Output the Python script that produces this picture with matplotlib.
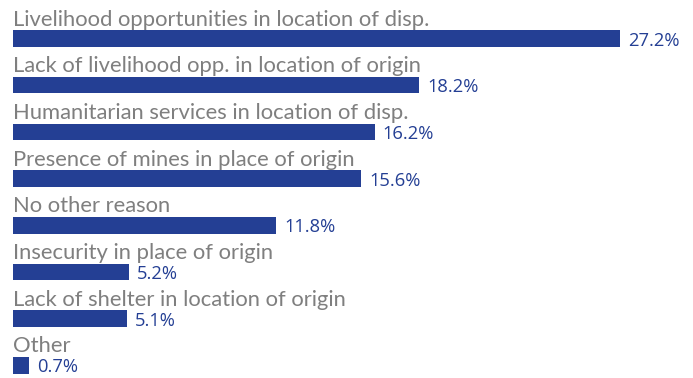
import matplotlib
matplotlib.use("Agg")
import matplotlib.pyplot as plt

categories = [
    "Livelihood opportunities in location of disp.",
    "Lack of livelihood opp. in location of origin",
    "Humanitarian services in location of disp.",
    "Presence of mines in place of origin",
    "No other reason",
    "Insecurity in place of origin",
    "Lack of shelter in location of origin",
    "Other",
]
values = [27.2, 18.2, 16.2, 15.6, 11.8, 5.2, 5.1, 0.7]
value_labels = ["27.2%", "18.2%", "16.2%", "15.6%", "11.8%", "5.2%", "5.1%", "0.7%"]

BAR_COLOR = "#243F94"
TEXT_GREY = "#7F7F7F"

W, H = 693, 378
fig = plt.figure(figsize=(W / 100, H / 100), dpi=100)
fig.patch.set_facecolor("white")

# axes placed so one percentage point spans ~22.3 px and rows are ~46.7 px apart
row_h = 46.7
first_c = 38.5
x0 = 13
px_per = 22.33
xmax = 30.0
top_px = first_c - row_h / 2
n = len(categories)
bottom_px = top_px + row_h * n
ax = fig.add_axes([x0 / W, (H - bottom_px) / H, xmax * px_per / W, (bottom_px - top_px) / H])
ax.set_xlim(0, xmax)
ax.set_ylim(n - 0.5, -0.5)
ax.axis("off")

bar_h = 16.5 / row_h
ypos = list(range(n))
ax.barh(ypos, values, height=bar_h, color=BAR_COLOR, edgecolor="none")

for i, (cat, v, lab) in enumerate(zip(categories, values, value_labels)):
    ax.text(0, i - bar_h / 2 - 0.1, cat, ha="left", va="baseline",
            fontsize=15.8, color=TEXT_GREY, family="Lato", clip_on=False)
    ax.text(v + 8 / px_per, i + 0.15, lab, ha="left", va="baseline",
            fontsize=13.2, color=BAR_COLOR, family="Open Sans", clip_on=False)

fig.savefig("out.png", dpi=100, facecolor="white")
